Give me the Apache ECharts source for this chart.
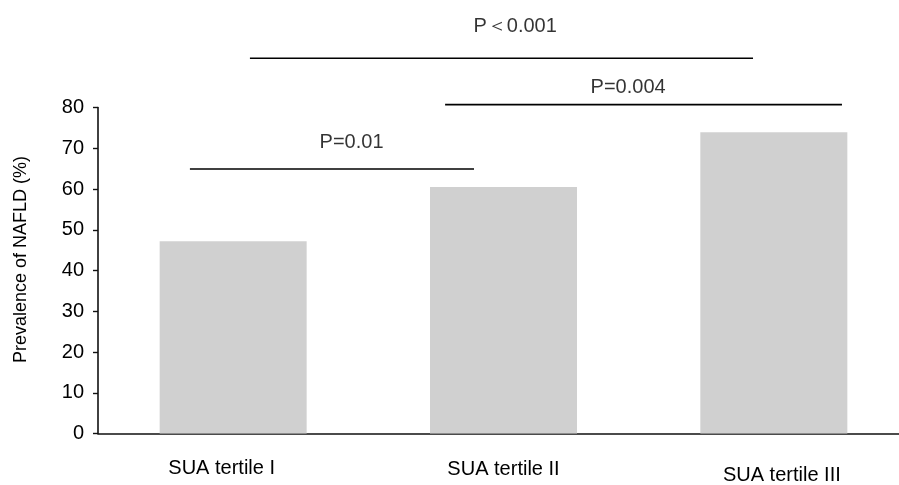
<!DOCTYPE html>
<html>
<head>
<meta charset="utf-8">
<script src="https://cdn.jsdelivr.net/npm/echarts@6/dist/echarts.min.js"></script>
<style>html,body{margin:0;padding:0;background:#fff;}#c{width:899px;height:485px;}</style>
</head>
<body>
<div id="c"></div>
<script>
// ---- data ----
var categories = ['SUA tertile I', 'SUA tertile II', 'SUA tertile III'];
var prevalence = [47.2, 60.5, 73.9];
var yTicks = [0, 10, 20, 30, 40, 50, 60, 70, 80];
// significance brackets (x in category-units, 0..3; y in %)
var sigStart = [0.34, 1.284, 0.562];
var sigEnd   = [1.391, 2.752, 2.423];
var sigLevel = [64.9, 80.7, 92.1];
var sigText  = ['P=0.01', 'P=0.004', 'P\uFF1C0.001'];
var sigTextX = [0.938, 1.961, 1.543];
var sigTextY = [71.3, 84.9, 99.9];

var FONT = '"Liberation Sans", Arial, sans-serif';
var chart = echarts.init(document.getElementById('c'), null, {renderer: 'canvas'});

var labelShift = [
  {padding: [0, 23, 0, 0]},
  {padding: [1, 0, 0, 0]},
  {padding: [7, 0, 0, 16]}
];
var catData = categories.map(function (c, i) {
  return {value: c, textStyle: labelShift[i]};
});

var series = [{
  type: 'bar',
  xAxisIndex: 0, yAxisIndex: 0,
  data: prevalence,
  barWidth: 147,
  itemStyle: {color: '#d0d0d0'},
  silent: true
}];
sigStart.forEach(function (s, i) {
  series.push({
    type: 'line',
    xAxisIndex: 1, yAxisIndex: 1,
    data: [[s, sigLevel[i]], [sigEnd[i], sigLevel[i]]],
    symbol: 'none',
    clip: false,
    lineStyle: {color: '#000', width: 1.6},
    silent: true
  });
});
series.push({
  type: 'scatter',
  xAxisIndex: 1, yAxisIndex: 1,
  clip: false,
  symbolSize: 1,
  itemStyle: {color: 'transparent'},
  data: sigTextX.map(function (x, i) { return [x, sigTextY[i], sigText[i]]; }),
  label: {
    show: true,
    position: 'inside',
    formatter: function (p) { return p.data[2]; },
    color: '#000',
    fontSize: 20,
    fontFamily: FONT
  },
  silent: true
});

chart.setOption({
  animation: false,
  backgroundColor: '#fff',
  grid: [
    {left: 98, top: 107.5, width: 811, height: 326, containLabel: false, outerBoundsMode: 'none'},
    {left: 98, top: 107.5, width: 811, height: 326, containLabel: false, outerBoundsMode: 'none'}
  ],
  xAxis: [{
    type: 'category',
    gridIndex: 0,
    data: catData,
    axisLine: {lineStyle: {color: '#111', width: 1.6}},
    axisTick: {show: false},
    axisLabel: {color: '#000', fontSize: 20, fontFamily: FONT, margin: 25, interval: 0}
  }, {
    type: 'value', gridIndex: 1, min: 0, max: 3, show: false
  }],
  yAxis: [{
    type: 'value',
    gridIndex: 0,
    min: yTicks[0], max: yTicks[yTicks.length - 1], interval: 10,
    splitLine: {show: false},
    axisLine: {show: true, lineStyle: {color: '#111', width: 1.6}},
    axisTick: {show: true, length: 5, inside: false, lineStyle: {color: '#111', width: 1.4}},
    axisLabel: {color: '#000', fontSize: 20, fontFamily: FONT, margin: 14},
    name: 'Prevalence of NAFLD (%)',
    nameLocation: 'middle',
    nameGap: 68,
    nameRotate: 90,
    nameTextStyle: {color: '#000', fontSize: 18, fontFamily: FONT, padding: [0, 0, 0, 22]}
  }, {
    type: 'value', gridIndex: 1, min: 0, max: 80, show: false
  }],
  series: series
});
</script>
</body>
</html>
